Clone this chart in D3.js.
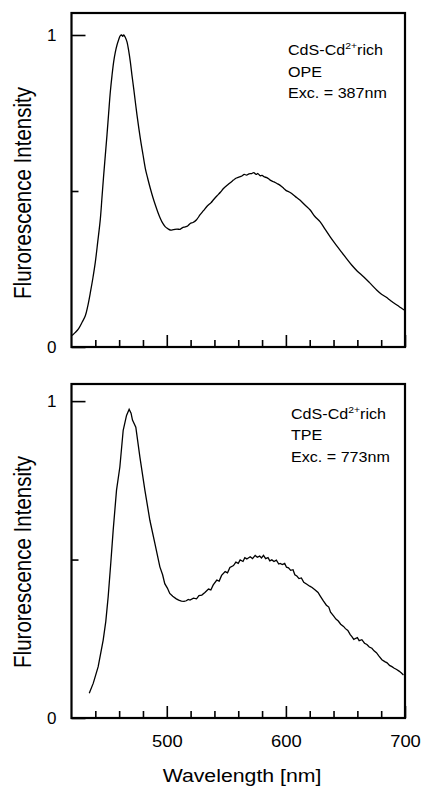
<!DOCTYPE html>
<html>
<head>
<meta charset="utf-8">
<script src="https://cdn.jsdelivr.net/npm/d3@7"></script>
<style>
  body { margin: 0; background: #fff; }
  svg { display: block; font-family: "Liberation Sans", Arial, Helvetica, sans-serif; }
</style>
</head>
<body>
<div id="chart"></div>
<script>
// OPE spectrum (exc. 387 nm)
const opeWavelength = [420.5, 423, 426, 429, 431.6, 433.7, 436, 438, 440, 442, 444.2, 445.6, 447, 448.4, 449.8, 451.2, 452.6, 454, 455.4, 456.8, 458.2, 459.6, 461, 462, 463, 463.8, 465.2, 466.6, 468, 469.4, 470.8, 472.2, 475, 477.8, 480, 482, 484, 486.2, 488.3, 490.4, 492.5, 494.6, 496.7, 498.8, 501, 503, 505.5, 508.6, 511, 513, 515.5, 517.5, 519.7, 522, 525, 528, 530.8, 534, 537, 539.2, 542, 545, 547.6, 550, 553, 556, 558, 560, 563, 565, 567, 569, 571.4, 573, 575, 576.5, 578.4, 580, 582, 584, 586.8, 590, 592.5, 595.2, 598, 600, 603.6, 608, 612, 616, 620.4, 624, 628.8, 633, 637.2, 641, 645.6, 650, 655.4, 660, 665.2, 670, 676.4, 680, 684, 687.5, 691, 695, 698.7, 700];
const opeIntensity = [0.037, 0.046, 0.059, 0.080, 0.100, 0.132, 0.178, 0.222, 0.272, 0.336, 0.410, 0.480, 0.550, 0.615, 0.680, 0.750, 0.818, 0.870, 0.914, 0.945, 0.968, 0.985, 0.998, 1.000, 0.996, 1.000, 0.992, 0.978, 0.950, 0.914, 0.870, 0.829, 0.743, 0.668, 0.617, 0.572, 0.540, 0.508, 0.480, 0.455, 0.432, 0.412, 0.396, 0.385, 0.379, 0.375, 0.376, 0.378, 0.377, 0.382, 0.385, 0.388, 0.396, 0.399, 0.408, 0.424, 0.437, 0.452, 0.462, 0.472, 0.484, 0.496, 0.508, 0.516, 0.526, 0.535, 0.541, 0.544, 0.548, 0.553, 0.551, 0.555, 0.556, 0.559, 0.553, 0.556, 0.549, 0.550, 0.545, 0.543, 0.535, 0.529, 0.524, 0.518, 0.509, 0.502, 0.495, 0.482, 0.470, 0.455, 0.439, 0.420, 0.401, 0.377, 0.353, 0.333, 0.310, 0.288, 0.262, 0.243, 0.225, 0.207, 0.182, 0.170, 0.160, 0.150, 0.140, 0.130, 0.120, 0.117];

// TPE spectrum (exc. 773 nm)
const tpeWavelength = [434.9, 438.3, 442.4, 446.6, 448.8, 450.8, 453, 455, 457.8, 460.6, 463.4, 466.2, 468.4, 470, 471.2, 474, 477.4, 481.6, 485.8, 490, 494.2, 496.5, 498.3, 500.5, 502.5, 505, 508, 510, 512.3, 514.5, 516.4, 518, 519.5, 522.4, 525, 527, 529.4, 532, 535, 537, 539, 542, 544, 546, 549, 551, 553, 556, 558, 560, 561.6, 564, 565.5, 567.2, 570, 572, 574.2, 576, 578, 579.5, 581.2, 583, 585, 586.5, 588.2, 590, 592, 594, 595.2, 597, 599, 600.5, 602.2, 604, 606, 607.5, 609.2, 611, 613, 615, 617.6, 620, 622, 624.6, 627, 629, 631.6, 634, 636, 637.5, 640, 642, 644, 646, 648.4, 650, 652, 654, 655.4, 657, 660, 661.5, 663.8, 666, 668, 670, 672.2, 674, 676, 678, 680.6, 683, 685, 687, 689, 691, 693, 695, 697, 698.7];
const tpeIntensity = [0.078, 0.110, 0.162, 0.246, 0.305, 0.383, 0.490, 0.593, 0.719, 0.792, 0.908, 0.955, 0.974, 0.962, 0.940, 0.918, 0.824, 0.719, 0.624, 0.551, 0.477, 0.452, 0.424, 0.410, 0.393, 0.384, 0.376, 0.372, 0.369, 0.368, 0.370, 0.374, 0.372, 0.378, 0.376, 0.386, 0.388, 0.396, 0.407, 0.404, 0.420, 0.435, 0.432, 0.450, 0.462, 0.458, 0.475, 0.481, 0.492, 0.488, 0.499, 0.494, 0.506, 0.502, 0.509, 0.503, 0.513, 0.507, 0.511, 0.505, 0.513, 0.503, 0.506, 0.496, 0.499, 0.494, 0.498, 0.486, 0.488, 0.484, 0.488, 0.476, 0.474, 0.466, 0.468, 0.452, 0.448, 0.440, 0.442, 0.428, 0.422, 0.416, 0.412, 0.404, 0.396, 0.384, 0.369, 0.356, 0.350, 0.334, 0.322, 0.312, 0.306, 0.296, 0.289, 0.282, 0.276, 0.263, 0.257, 0.248, 0.254, 0.244, 0.247, 0.236, 0.232, 0.224, 0.220, 0.212, 0.206, 0.196, 0.184, 0.178, 0.174, 0.166, 0.162, 0.157, 0.153, 0.148, 0.142, 0.136];

const xMinorTicks = [440, 460, 480, 520, 540, 560, 580, 620, 640, 660, 680];
const xMajorTicks = [500, 600, 700];
const yMajorTicks = [0, 1];
const yMinorTicks = [0.5];

const annotationOPE = ["OPE", "Exc. = 387nm"];
const annotationTPE = ["TPE", "Exc. = 773nm"];

const width = 422, height = 789;
const stretch = 1.15; // the scanned figure is a bit wider than tall

const svg = d3.select("#chart").append("svg")
  .attr("width", width)
  .attr("height", height);

const x = d3.scaleLinear().domain([420, 700]).range([71.5, 405]);

const drawPanel = (wl, val, opts) => {
  const y = d3.scaleLinear().domain([0, opts.yTop]).range([opts.bottom, opts.top]);
  const g = svg.append("g");
  const data = wl.map((w, i) => ({ w: w, v: val[i] }));

  // minor and major x ticks, pointing inward
  g.append("g")
    .attr("transform", `translate(0,${opts.bottom})`)
    .call(d3.axisBottom(x).tickValues(xMinorTicks).tickSizeInner(-7).tickSizeOuter(0).tickFormat(""))
    .call(a => a.select(".domain").remove());

  const xMaj = g.append("g")
    .attr("transform", `translate(0,${opts.bottom})`)
    .call(d3.axisBottom(x).tickValues(xMajorTicks).tickSizeInner(-12).tickSizeOuter(0)
      .tickPadding(18).tickFormat(opts.xLabels ? d3.format("d") : ""))
    .call(a => a.select(".domain").remove());
  xMaj.selectAll("text")
    .attr("font-size", 16)
    .attr("font-family", null)
    .attr("fill", "#000")
    .attr("transform", `scale(${stretch},1)`);

  // y ticks
  const yMaj = g.append("g")
    .attr("transform", `translate(${x.range()[0]},0)`)
    .call(d3.axisLeft(y).tickValues(yMajorTicks).tickSizeInner(-14).tickSizeOuter(0).tickPadding(15).tickFormat(d3.format("d")))
    .call(a => a.select(".domain").remove());
  yMaj.selectAll("text").attr("font-size", 17).attr("font-family", null).attr("fill", "#000");

  g.append("g")
    .attr("transform", `translate(${x.range()[0]},0)`)
    .call(d3.axisLeft(y).tickValues(yMinorTicks).tickSizeInner(-7).tickSizeOuter(0).tickFormat(""))
    .call(a => a.select(".domain").remove());

  g.selectAll(".tick line").attr("stroke", "#000").attr("stroke-width", 1.6);

  // frame
  g.append("rect")
    .attr("x", x.range()[0])
    .attr("y", opts.top)
    .attr("width", x.range()[1] - x.range()[0])
    .attr("height", opts.bottom - opts.top)
    .attr("fill", "none")
    .attr("stroke", "#000")
    .attr("stroke-width", 2.2);

  // spectrum
  const line = d3.line()
    .x(d => x(d.w))
    .y(d => y(d.v))
    .curve(opts.curve);

  g.append("path")
    .datum(data)
    .attr("d", line)
    .attr("fill", "none")
    .attr("stroke", "#000")
    .attr("stroke-width", 1.3);

  // y title
  g.append("text")
    .attr("transform", `translate(23,${opts.titleY}) scale(${stretch},1) rotate(-90)`)
    .attr("text-anchor", "middle")
    .attr("dy", "0.35em")
    .attr("font-size", 20.5)
    .attr("fill", "#000")
    .text("Flurorescence Intensity");

  // annotation block
  const ann = g.append("g")
    .attr("transform", `translate(${opts.annX},${opts.annY}) scale(${stretch},1)`)
    .attr("font-size", 14)
    .attr("fill", "#000");
  const first = ann.append("text").attr("x", 0).attr("y", 0);
  first.append("tspan").text("CdS-Cd");
  first.append("tspan").attr("font-size", 9).attr("dy", -6).text("2+");
  first.append("tspan").attr("dy", 6).text("rich");
  ann.selectAll(".line")
    .data(opts.annotation)
    .join("text")
    .attr("class", "line")
    .attr("x", 0)
    .attr("y", (d, i) => (i + 1) * 21.7)
    .text(d => d);
};

drawPanel(opeWavelength, opeIntensity, {
  top: 13, bottom: 347, yTop: 1.0705, xLabels: false,
  curve: d3.curveCatmullRom, titleY: 193,
  annX: 288, annY: 55, annotation: annotationOPE
});

drawPanel(tpeWavelength, tpeIntensity, {
  top: 384, bottom: 718, yTop: 1.054, xLabels: true,
  curve: d3.curveLinear, titleY: 562,
  annX: 291, annY: 418.5, annotation: annotationTPE
});

// x title
svg.append("text")
  .attr("transform", `translate(242,776) scale(${stretch},1)`)
  .attr("text-anchor", "middle")
  .attr("dy", "0.35em")
  .attr("font-size", 18.5)
  .attr("fill", "#000")
  .text("Wavelength [nm]");
</script>
</body>
</html>
